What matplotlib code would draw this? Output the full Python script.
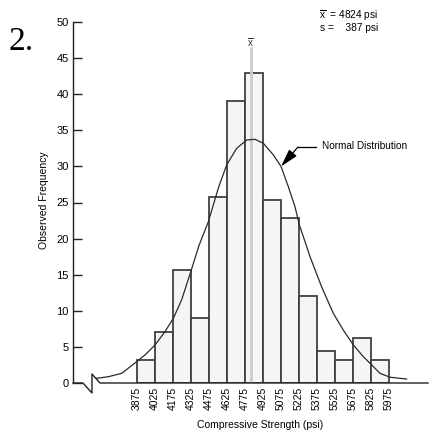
import numpy as np
import matplotlib
matplotlib.use("Agg")
import matplotlib.pyplot as plt

# ---- data ----
bin_edges = [3875, 4025, 4175, 4325, 4475, 4625, 4775, 4925, 5075, 5225,
             5375, 5525, 5675, 5825, 5975]
frequencies = [3.2, 7.0, 15.7, 9.0, 25.8, 39.0, 42.9, 25.3, 22.8, 12.0,
               4.5, 3.2, 6.2, 3.2]
mean_psi = 4824
std_psi = 387
tick_labels = [str(e) for e in bin_edges]

# normal-distribution curve
curve_psi = [3539, 3636, 3748, 3872, 3942, 4025, 4108, 4178, 4247, 4325,
             4393, 4469, 4553, 4622, 4706, 4789, 4858, 4928, 5011, 5075,
             5136, 5192, 5228, 5275, 5317, 5414, 5511, 5594, 5678, 5761,
             5831, 5900, 5983, 6122]
curve_freq = [0.65, 0.87, 1.34, 2.95, 3.88, 5.26, 7.1, 8.96, 11.5, 15.5,
              19.1, 22.3, 27.0, 30.2, 32.5, 33.66, 33.75, 33.2, 31.6, 30.0,
              27.2, 24.4, 21.9, 19.6, 17.5, 13.3, 9.65, 7.34, 5.26, 3.65,
              2.5, 1.34, 0.8, 0.55]

plt.rcParams['font.family'] = ['Liberation Sans', 'DejaVu Sans']
plt.rcParams['mathtext.fontset'] = 'custom'
plt.rcParams['mathtext.rm'] = 'Liberation Sans'
plt.rcParams['mathtext.it'] = 'Liberation Sans'

fig = plt.figure(figsize=(4.30, 4.33), dpi=100)
ax = fig.add_axes([73/430, 1-383/433, (428-73)/430, (383-22)/433])

xmin, xmax = 3342, 6300
ax.set_xlim(xmin, xmax)
ax.set_ylim(0, 50)

widths = np.diff(bin_edges)
ax.bar(bin_edges[:-1], frequencies, width=widths, align='edge',
       color='#f5f5f5', edgecolor='#404040', linewidth=1.3, zorder=2)

# mean line
ax.plot([mean_psi, mean_psi], [0, 46.4], color='#cccccc', lw=2, zorder=3)
ax.text(mean_psi, 47.2, r'$\overline{\mathrm{x}}$', ha='center', va='center',
        fontsize=7, color='#333333', zorder=4)

# curve
ax.plot(curve_psi, curve_freq, color='#2a2a2a', lw=0.9, zorder=5)

# annotation: text, leader line and arrow
ppx = 0.12    # px per psi
ppy = 361/50  # px per unit frequency
def pxx(px):
    return 3875 + (px - 137) / ppx
def pxy(py):
    return (383 - py) / ppy

ax.text(pxx(322), pxy(146), 'Normal Distribution', fontsize=7.2,
        ha='left', va='center', zorder=6)
ax.plot([pxx(316), pxx(298)], [pxy(147), pxy(147)], color='black', lw=0.9, zorder=6)
ax.annotate('', xy=(pxx(281), pxy(166.5)), xytext=(pxx(298), pxy(147)),
            arrowprops=dict(arrowstyle='-|>,head_length=1.1,head_width=0.3',
                            color='black', lw=0.9, shrinkA=0, shrinkB=0),
            zorder=6)

# stats text
ax.text((378-73)/355, 1+6/361, r'$\overline{\mathrm{x}}$  = 4824 psi',
        transform=ax.transAxes, fontsize=7.3, ha='right', va='center')
ax.text((378-73)/355, 1-6/361, 's =    387 psi', transform=ax.transAxes,
        fontsize=7.3, ha='right', va='center')

# spines
for s in ['top', 'right', 'bottom']:
    ax.spines[s].set_visible(False)
ax.spines['left'].set_color('#222222')
ax.spines['left'].set_linewidth(1.0)

# bottom axis with break
bx = [xmin, pxx(83), pxx(92), pxx(92), pxx(100), xmax]
by = [0, 0, pxy(393), pxy(374), 0, 0]
ax.plot(bx, by, color='#222222', lw=1.0, clip_on=False, zorder=6)

ax.set_yticks(range(0, 51, 5))
ax.tick_params(axis='y', direction='in', length=6.5, width=1.0, labelsize=8,
               pad=3, color='#222222')
ax.set_xticks(bin_edges)
ax.set_xticklabels(tick_labels, rotation=90, fontsize=7.5)
ax.tick_params(axis='x', length=0, pad=3)

ax.set_ylabel('Observed Frequency', fontsize=7.5)
ax.yaxis.set_label_coords(-(73-49)/355, (383-200)/361)
ax.set_xlabel('Compressive Strength (psi)', fontsize=7.5)
ax.xaxis.set_label_coords((260-73)/355, -(425-383)/361)
ax.xaxis.label.set_va('center')

fig.text(8/430, 1-50/433, '2.', fontsize=24, family='Liberation Serif',
         ha='left', va='baseline')

fig.savefig('out.png', dpi=100)
